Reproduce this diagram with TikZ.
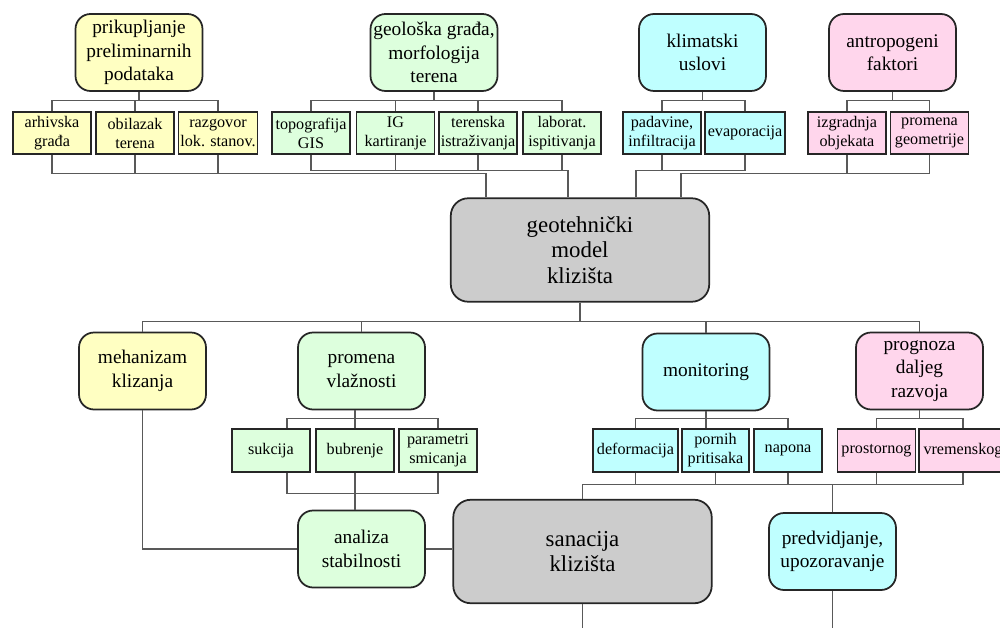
\documentclass[tikz,border=0pt]{standalone}
\usepackage{fontspec}
\setmainfont{Liberation Serif}
\usetikzlibrary{calc}

\definecolor{yel}{RGB}{255,255,194}
\definecolor{grn}{RGB}{221,255,221}
\definecolor{cya}{RGB}{191,255,255}
\definecolor{pnk}{RGB}{255,214,236}
\definecolor{siva}{RGB}{204,204,204}

\tikzset{
  bigbox/.style={draw=black!85, line width=1pt, rounded corners=0.3cm, align=center,
    minimum width=2.54cm, minimum height=1.54cm, inner sep=1pt,
    font=\fontsize{11}{13.3}\selectfont},
  subbox/.style={draw=black!85, line width=1pt, align=center,
    minimum width=1.56cm, minimum height=0.85cm, inner sep=1pt,
    font=\fontsize{9.2}{10.8}\selectfont},
  mainbox/.style={draw=black!85, line width=1pt, rounded corners=0.35cm, align=center,
    fill=siva, minimum width=5.17cm, minimum height=2.07cm,
    font=\fontsize{13}{14.5}\selectfont},
  wire/.style={draw=black!65, line width=0.6pt}
}

\begin{document}
\begin{tikzpicture}[x=0.02cm, y=-0.02cm]
        \useasboundingbox (0,0) rectangle (1000,628);

        % gornji nivo
        \node[bigbox, fill=yel] (pp) at (139,52.5) {prikupljanje\\preliminarnih\\podataka};
        \node[bigbox, fill=grn] (gg) at (434,52.5) {geološka građa,\\morfologija\\terena};
        \node[bigbox, fill=cya] (kl) at (702.5,52.5) {klimatski\\uslovi};
        \node[bigbox, fill=pnk] (an) at (892.5,52.5) {antropogeni\\faktori};

        \node[subbox, fill=yel] (arh) at (52,133) {arhivska\\građa};
        \node[subbox, fill=yel] (obi) at (135,133) {obilazak\\terena};
        \node[subbox, fill=yel] (raz) at (218,133) {razgovor\\lok. stanov.};
        \node[subbox, fill=grn] (topo) at (311,133) {topografija\\GIS};
        \node[subbox, fill=grn] (igk) at (395.5,133) {IG\\kartiranje};
        \node[subbox, fill=grn] (ter) at (478,133) {terenska\\istraživanja};
        \node[subbox, fill=grn] (lab) at (562,133) {laborat.\\ispitivanja};
        \node[subbox, fill=cya] (pad) at (662,133) {padavine,\\infiltracija};
        \node[subbox, fill=cya, minimum width=1.6cm] (eva) at (745,133) {evaporacija};
        \node[subbox, fill=pnk] (izg) at (847,133) {izgradnja\\objekata};
        \node[subbox, fill=pnk] (prg) at (929.5,133) {promena\\geometrije};

        \node[mainbox] (gm) at (580,250) {geotehnički\\model\\klizišta};

        % srednji nivo
        \node[bigbox, fill=yel] (meh) at (142.5,371) {mehanizam\\klizanja};
        \node[bigbox, fill=grn] (pvl) at (361.5,371) {promena\\vlažnosti};
        \node[bigbox, fill=cya] (mon) at (706,372) {monitoring};
        \node[bigbox, fill=pnk] (prog) at (919.5,371) {prognoza\\daljeg\\razvoja};

        \node[subbox, fill=grn] (suk) at (271,450.5) {sukcija};
        \node[subbox, fill=grn] (bub) at (355,450.5) {bubrenje};
        \node[subbox, fill=grn] (par) at (438,450.5) {parametri\\smicanja};
        \node[subbox, fill=cya, minimum width=1.7cm] (def) at (635.5,450.5) {deformacija};
        \node[subbox, fill=cya, minimum width=1.34cm] (por) at (715.5,450.5) {pornih\\pritisaka};
        \node[subbox, fill=cya, minimum width=1.36cm] (nap) at (788,450.5) {napona};
        \node[subbox, fill=pnk] (pro) at (876.5,450.5) {prostornog};
        \node[subbox, fill=pnk, minimum width=1.76cm] (vre) at (963,450.5) {vremenskog};

        % donji nivo
        \node[bigbox, fill=grn] (ana) at (361.5,549) {analiza\\stabilnosti};
        \node[mainbox] (san) at (582.5,551.5) {sanacija\\klizišta};
        \node[bigbox, fill=cya] (pre) at (832.5,551.5) {predvidjanje,\\upozoravanje};

        % veze gore
        \draw[wire] (pp.south) -- ++(0,9) coordinate (b1);
        \draw[wire] (arh.north) |- (b1) -| (raz.north);
        \draw[wire] (obi.north) -- (obi.north |- b1);
        \draw[wire] (gg.south) -- ++(0,9) coordinate (b2);
        \draw[wire] (topo.north) |- (b2) -| (lab.north);
        \draw[wire] (igk.north) -- (igk.north |- b2);
        \draw[wire] (ter.north) -- (ter.north |- b2);
        \draw[wire] (kl.south) -- ++(0,9) coordinate (b3);
        \draw[wire] (pad.north) |- (b3) -| (eva.north);
        \draw[wire] (an.south) -- ++(0,9) coordinate (b4);
        \draw[wire] (izg.north) |- (b4) -| (prg.north);

        \draw[wire] (arh.south) |- ($(gm.north)+(-94,-24)$) coordinate (c1) -- ($(gm.north)+(-94,0)$);
        \draw[wire] (obi.south) -- (obi.south |- c1);
        \draw[wire] (raz.south) -- (raz.south |- c1);
        \draw[wire] (topo.south) |- ($(gm.north)+(-12,-27)$) coordinate (c2) -- ($(gm.north)+(-12,0)$);
        \draw[wire] (igk.south) -- (igk.south |- c2);
        \draw[wire] (ter.south) -- (ter.south |- c2);
        \draw[wire] (lab.south) -- (lab.south |- c2);
        \draw[wire] (eva.south) |- ($(gm.north)+(56,-27)$) coordinate (c3) -- ($(gm.north)+(56,0)$);
        \draw[wire] (pad.south) -- (pad.south |- c3);
        \draw[wire] (prg.south) |- ($(gm.north)+(101,-24)$) coordinate (c4) -- ($(gm.north)+(101,0)$);
        \draw[wire] (izg.south) -- (izg.south |- c4);

        % veze sredina
        \draw[wire] (gm.south) -- ++(0,19) coordinate (b5);
        \draw[wire] (meh.north) |- (b5) -| (prog.north);
        \draw[wire] (pvl.north) -- (pvl.north |- b5);
        \draw[wire] (mon.north) -- (mon.north |- b5);

        \draw[wire] (bub.north) -- (bub.north |- pvl.south);
        \draw[wire] ($(suk.north)+(16,0)$) |- ($(pvl.south)+(0,8)$) -| (par.north);
        \draw[wire] ($(suk.south)+(16,0)$) |- ($(par.south)+(0,21)$) -- (par.south);
        \draw[wire] (bub.south) -- (bub.south |- ana.north);

        \draw[wire] (mon.south) -- (mon.south |- por.north);
        \draw[wire] (def.north) |- ($(mon.south)+(0,7)$) -| (nap.north);
        \draw[wire] (prog.south) -- ++(0,8) coordinate (b7);
        \draw[wire] (pro.north) |- (b7) -| (vre.north);

        % veze dole
        \draw[wire] (san.north) |- ($(vre.south)+(0,12)$) coordinate (b8) -- (vre.south);
        \draw[wire] (def.south) -- (def.south |- b8);
        \draw[wire] (por.south) -- (por.south |- b8);
        \draw[wire] (nap.south) -- (nap.south |- b8);
        \draw[wire] (pro.south) -- (pro.south |- b8);
        \draw[wire] (pre.north) -- (pre.north |- b8);
        \draw[wire] (meh.south) |- (ana.west);
        \draw[wire] (ana.east) -- (ana.east -| san.west);
        \draw[wire] (san.south) -- ++(0,30);
        \draw[wire] (pre.south) -- ++(0,40);
    \end{tikzpicture}
\end{document}
